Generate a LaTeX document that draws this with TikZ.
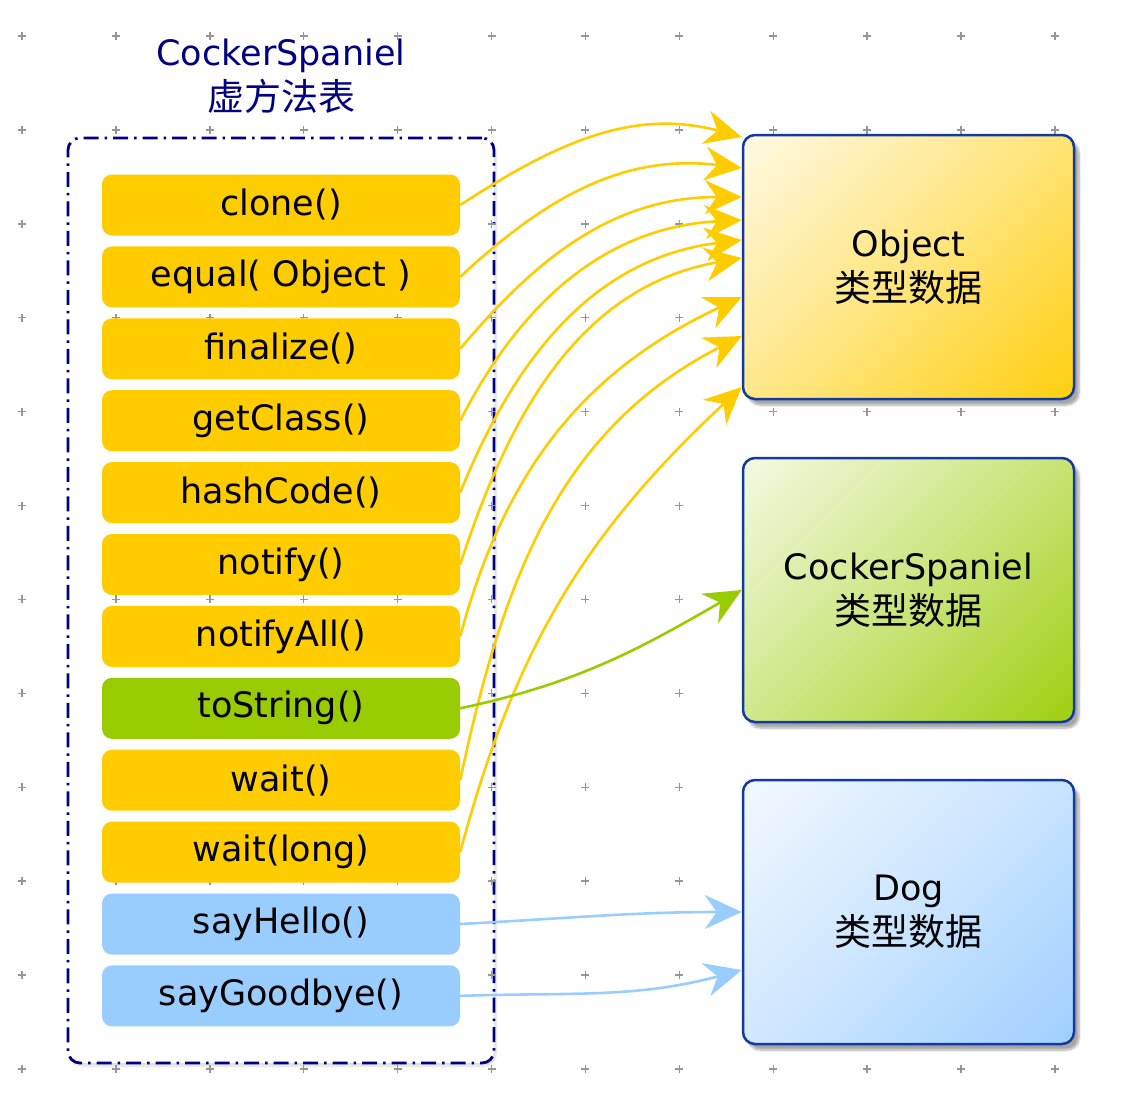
\documentclass[tikz,border=0pt]{standalone}
\usepackage{fontspec}
\setmainfont{DejaVu Sans}
\newfontfamily\cjk{Noto Sans CJK SC}
\usepackage{tikz}
\usetikzlibrary{positioning, arrows.meta, shadows.blur, calc}

\definecolor{navy}{RGB}{0,0,128}
\definecolor{frameblue}{RGB}{20,58,160}
\definecolor{mYellow}{RGB}{255,204,0}
\definecolor{mGreen}{RGB}{153,204,0}
\definecolor{mBlue}{RGB}{153,204,255}
\definecolor{gridgray}{RGB}{150,150,150}

% diagonal fills of the type boxes (used with shading angle=45)
\pgfdeclareverticalshading{objshade}{100bp}{color(0bp)=(mYellow);
  color(10bp)=(mYellow); color(50bp)=(mYellow!50!white);
  color(90bp)=(mYellow!6!white); color(100bp)=(mYellow!6!white)}
\pgfdeclareverticalshading{spanshade}{100bp}{color(0bp)=(mGreen);
  color(10bp)=(mGreen); color(50bp)=(mGreen!50!white);
  color(90bp)=(mGreen!6!white); color(100bp)=(mGreen!6!white)}
\pgfdeclareverticalshading{dogshade}{100bp}{color(0bp)=(mBlue);
  color(10bp)=(mBlue); color(50bp)=(mBlue!50!white);
  color(90bp)=(mBlue!8!white); color(100bp)=(mBlue!8!white)}

\newcommand{\zh}[1]{{\cjk\fontsize{37}{45}\selectfont #1}}

\tikzset{
  method/.style  = {rectangle, rounded corners=10pt,
                    minimum width=358pt, minimum height=61pt,
                    inner sep=0pt, fill=#1,
                    font=\fontsize{35}{40}\selectfont},
  typebox/.style = {rectangle, rounded corners=12pt,
                    minimum width=331pt, minimum height=264pt,
                    align=center, draw=frameblue, line width=2.5pt,
                    shade, shading=#1, shading angle=45,
                    blur shadow={shadow xshift=5pt, shadow yshift=-6pt,
                                 shadow blur steps=8, shadow opacity=35},
                    font=\fontsize{35}{45}\selectfont},
  vtable/.style  = {rectangle, rounded corners=12pt, draw=navy,
                    line width=2.8pt, fill=white,
                    dash pattern=on 15pt off 6pt on 2.5pt off 6pt,
                    minimum width=426pt, minimum height=925pt,
                    blur shadow={shadow xshift=2pt, shadow yshift=-3pt,
                                 shadow blur steps=10, shadow opacity=15}},
  gridmark/.style= {gridgray, line width=1.4pt},
  arr/.style     = {-{Stealth[length=37pt, width=34pt, inset=12pt]},
                    line width=2.6pt, draw=#1},
}

\begin{document}
\begin{tikzpicture}[x=1pt, y=1pt]

% ────────────────────────────────────────────────────────────
%  1 unit = 1pt; rows go downwards, so y values are negative.
%  Method column (x=281): clone ... saygoodbye
%  Type boxes    (x=908): obj, spaniel, dog
% ────────────────────────────────────────────────────────────
\useasboundingbox (0,0) rectangle (1142,-1100);

% ── Table frame ─────────────────────────────────────────────
\node[font=\fontsize{35}{45}\selectfont, text=navy, align=center]
  (title) at (281,-76) {CockerSpaniel\\\zh{虚方法表}};

\node[vtable] (vt) at (281,-600.5) {};

% ── Background grid ─────────────────────────────────────────
\foreach \i in {0,...,11}
  \foreach \j in {0,...,11}
    \draw[gridmark] ({22+93.9*\i},{-36-93.9*\j}) ++(-4,0) -- ++(8,0)
                    ++(-4,-4) -- ++(0,8);

% ═══════════════════════════════════════════════════════════
%  METHODS
% ═══════════════════════════════════════════════════════════
\node[method=mYellow] (clone)      at (281,-205.0) {clone()};
\node[method=mYellow] (equal)      at (281,-276.9) {equal( Object )};
\node[method=mYellow] (finalize)   at (281,-348.8) {finalize()};
\node[method=mYellow] (getclass)   at (281,-420.7) {getClass()};
\node[method=mYellow] (hashcode)   at (281,-492.6) {hashCode()};
\node[method=mYellow] (notify)     at (281,-564.5) {notify()};
\node[method=mYellow] (notifyall)  at (281,-636.4) {notifyAll()};
\node[method=mGreen]  (tostring)   at (281,-708.3) {toString()};
\node[method=mYellow] (wait)       at (281,-780.2) {wait()};
\node[method=mYellow] (waitlong)   at (281,-852.1) {wait(long)};
\node[method=mBlue]   (sayhello)   at (281,-924.0) {sayHello()};
\node[method=mBlue]   (saygoodbye) at (281,-995.9) {sayGoodbye()};

% ═══════════════════════════════════════════════════════════
%  TYPE DATA
% ═══════════════════════════════════════════════════════════
\node[typebox=objshade]  (obj)     at (908.5,-267) {Object\\\zh{类型数据}};
\node[typebox=spanshade] (spaniel) at (908.5,-590) {CockerSpaniel\\\zh{类型数据}};
\node[typebox=dogshade]  (dog)     at (908.5,-912) {Dog\\\zh{类型数据}};

% ── Inherited from Object ───────────────────────────────────
\draw[arr=mYellow] (clone.east)     to[out=33, in=165] ([yshift=130pt]obj.west);
\draw[arr=mYellow] (equal.east)     to[out=43, in=173] ([yshift=99pt]obj.west);
\draw[arr=mYellow] (finalize.east)  to[out=50, in=180] ([yshift=70pt]obj.west);
\draw[arr=mYellow] (getclass.east)  to[out=63, in=183] ([yshift=47pt]obj.west);
\draw[arr=mYellow] (hashcode.east)  to[out=68, in=187] ([yshift=27pt]obj.west);
\draw[arr=mYellow] (notify.east)    to[out=72, in=190] ([yshift=9pt]obj.west);
\draw[arr=mYellow] (notifyall.east) to[out=75, in=205] ([yshift=-30pt]obj.west);
\draw[arr=mYellow] (wait.east)      to[out=78, in=207] ([yshift=-69pt]obj.west);
\draw[arr=mYellow] (waitlong.east)  to[out=75, in=223] ([yshift=-120pt]obj.west);

% ── Overridden / own methods ────────────────────────────────
\draw[arr=mGreen] (tostring.east)   to[out=12, in=210] (spaniel.west);
\draw[arr=mBlue]  (sayhello.east)   to[out=3, in=180]  (dog.west);
\draw[arr=mBlue]  (saygoodbye.east) to[out=2, in=195]  ([yshift=-58pt]dog.west);

\end{tikzpicture}
\end{document}
